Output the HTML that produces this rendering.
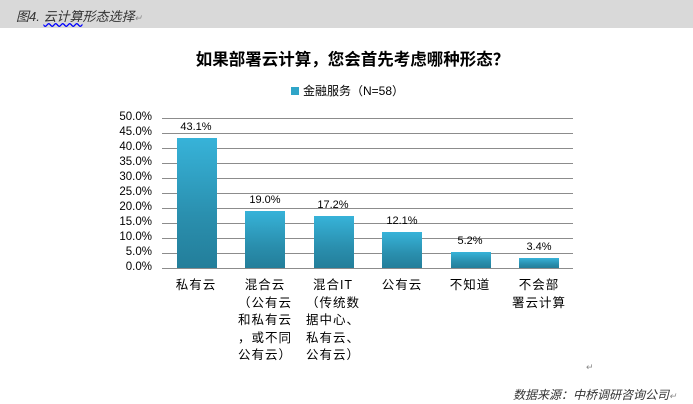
<!DOCTYPE html>
<html><head><meta charset="utf-8"><style>
body{margin:0;width:693px;height:404px;background:#fff;overflow:hidden;font-family:"Liberation Sans","Noto Sans CJK SC",sans-serif;position:relative}
.hdr{position:absolute;left:0;top:0;width:693px;height:28px;background:#d9d9d9}
.t{position:absolute;white-space:nowrap}
.grid{position:absolute;left:162px;width:411px;height:1px;background:#8c8c8c}
.bar{position:absolute;width:40px;background:linear-gradient(#37b3d9,#2a8fae 60%,#237e9a)}
.yl{position:absolute;left:100px;width:52px;text-align:right;font-size:11.5px;color:#000}
.vl{position:absolute;width:70px;text-align:center;font-size:11px}
.cl{position:absolute;width:70px;text-align:center;font-size:12.5px;line-height:17.5px;top:277px;letter-spacing:1px}
</style></head><body>
<div class="hdr"></div>
<div class="t" style="left:16px;top:6px;font-size:13px;font-style:italic;color:#333">图4. <span style="text-decoration:underline wavy #00f">云计算</span>形态选择<span style="color:#888;font-size:9px">↵</span></div>
<div class="t" style="left:0;width:693px;text-align:center;top:46px;font-size:16.5px;font-weight:bold;padding-left:6px">如果部署云计算，您会首先考虑哪种形态？</div>
<div class="t" style="left:291px;top:82px;font-size:12px"><span style="display:inline-block;width:8px;height:8px;background:#2fa5c8;margin-right:4px"></span>金融服务（N=58）</div>
<div class="grid" style="top:118px"></div><div class="grid" style="top:133px"></div><div class="grid" style="top:148px"></div><div class="grid" style="top:163px"></div><div class="grid" style="top:178px"></div><div class="grid" style="top:193px"></div><div class="grid" style="top:208px"></div><div class="grid" style="top:223px"></div><div class="grid" style="top:238px"></div><div class="grid" style="top:253px"></div><div class="grid" style="top:268px"></div>
<div class="yl" style="top:111px">50.0%</div><div class="yl" style="top:126px">45.0%</div><div class="yl" style="top:141px">40.0%</div><div class="yl" style="top:156px">35.0%</div><div class="yl" style="top:171px">30.0%</div><div class="yl" style="top:186px">25.0%</div><div class="yl" style="top:201px">20.0%</div><div class="yl" style="top:216px">15.0%</div><div class="yl" style="top:231px">10.0%</div><div class="yl" style="top:246px">5.0%</div><div class="yl" style="top:261px">0.0%</div>
<div class="bar" style="left:177px;top:138px;height:130px"></div>
<div class="bar" style="left:245px;top:211px;height:57px"></div>
<div class="bar" style="left:314px;top:216px;height:52px"></div>
<div class="bar" style="left:382px;top:232px;height:36px"></div>
<div class="bar" style="left:451px;top:252px;height:16px"></div>
<div class="bar" style="left:519px;top:258px;height:10px"></div>
<div class="vl" style="left:161px;top:121px">43.1%</div>
<div class="vl" style="left:230px;top:194px">19.0%</div>
<div class="vl" style="left:298px;top:199px">17.2%</div>
<div class="vl" style="left:367px;top:215px">12.1%</div>
<div class="vl" style="left:435px;top:235px">5.2%</div>
<div class="vl" style="left:504px;top:241px">3.4%</div>
<div class="cl" style="left:161px">私有云</div>
<div class="cl" style="left:230px">混合云<br>（公有云<br>和私有云<br>，或不同<br>公有云）</div>
<div class="cl" style="left:298px">混合IT<br>（传统数<br>据中心、<br>私有云、<br>公有云）</div>
<div class="cl" style="left:367px">公有云</div>
<div class="cl" style="left:435px">不知道</div>
<div class="cl" style="left:504px">不会部<br>署云计算</div>
<div class="t" style="left:586px;top:362px;font-size:9px;color:#888">↵</div>
<div class="t" style="left:513px;top:386px;font-size:12px;font-style:italic;color:#333">数据来源：中桥调研咨询公司<span style="font-size:9px;color:#888">↵</span></div>
</body></html>
